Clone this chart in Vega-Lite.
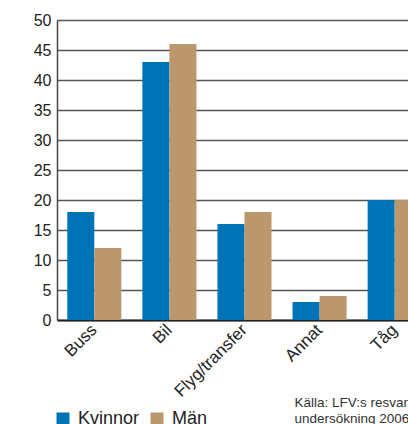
{
  "$schema": "https://vega.github.io/schema/vega-lite/v6.json",
  "autosize": "none",
  "width": 351,
  "height": 300,
  "padding": {"left": 57, "top": 20, "right": 0, "bottom": 104},
  "background": "white",
  "config": {
    "font": "Liberation Sans",
    "view": {"stroke": null}
  },
  "data": {
    "values": [
      {"kategori": "Buss", "kon": "Kvinnor", "andel": 18},
      {"kategori": "Buss", "kon": "Män", "andel": 12},
      {"kategori": "Bil", "kon": "Kvinnor", "andel": 43},
      {"kategori": "Bil", "kon": "Män", "andel": 46},
      {"kategori": "Flyg/transfer", "kon": "Kvinnor", "andel": 16},
      {"kategori": "Flyg/transfer", "kon": "Män", "andel": 18},
      {"kategori": "Annat", "kon": "Kvinnor", "andel": 3},
      {"kategori": "Annat", "kon": "Män", "andel": 4},
      {"kategori": "Tåg", "kon": "Kvinnor", "andel": 20},
      {"kategori": "Tåg", "kon": "Män", "andel": 20}
    ]
  },
  "mark": {"type": "bar"},
  "encoding": {
    "x": {
      "field": "kategori",
      "type": "nominal",
      "sort": ["Buss", "Bil", "Flyg/transfer", "Annat", "Tåg"],
      "scale": {"range": [0, 375], "paddingInner": 0.28, "paddingOuter": 0.137},
      "axis": {
        "title": ["Källa: LFV:s resvane-", "undersökning 2006"],
        "titleX": 237,
        "titleY": 86,
        "titleAnchor": null,
        "titleAlign": "left",
        "titleBaseline": "alphabetic",
        "titleFontSize": 13.5,
        "titleFontWeight": "normal",
        "titleColor": "#333333",
        "titleLineHeight": 16,
        "labelAngle": -45,
        "labelAlign": "right",
        "labelBaseline": "middle",
        "labelFontSize": 17,
        "labelColor": "#222222",
        "labelPadding": 7,
        "ticks": false,
        "domainColor": "#222222",
        "domainWidth": 2,
        "grid": false
      }
    },
    "xOffset": {"field": "kon", "type": "nominal", "sort": ["Kvinnor", "Män"]},
    "y": {
      "field": "andel",
      "type": "quantitative",
      "scale": {"domain": [0, 50], "nice": false},
      "axis": {
        "title": null,
        "values": [0, 5, 10, 15, 20, 25, 30, 35, 40, 45, 50],
        "labelFontSize": 16,
        "labelColor": "#222222",
        "labelPadding": 6,
        "ticks": false,
        "domainColor": "#444444",
        "domainWidth": 1.5,
        "grid": true,
        "gridColor": "#555555",
        "gridWidth": 1.5
      }
    },
    "color": {
      "field": "kon",
      "type": "nominal",
      "scale": {"domain": ["Kvinnor", "Män"], "range": ["#0072B6", "#BA976D"]},
      "legend": {
        "title": null,
        "orient": "none",
        "legendX": -3,
        "legendY": 390,
        "padding": 0,
        "direction": "horizontal",
        "symbolType": "square",
        "symbolSize": 169,
        "symbolStrokeWidth": 0,
        "labelFontSize": 18,
        "labelColor": "#222222",
        "labelOffset": 6,
        "columnPadding": 8
      }
    }
  }
}
